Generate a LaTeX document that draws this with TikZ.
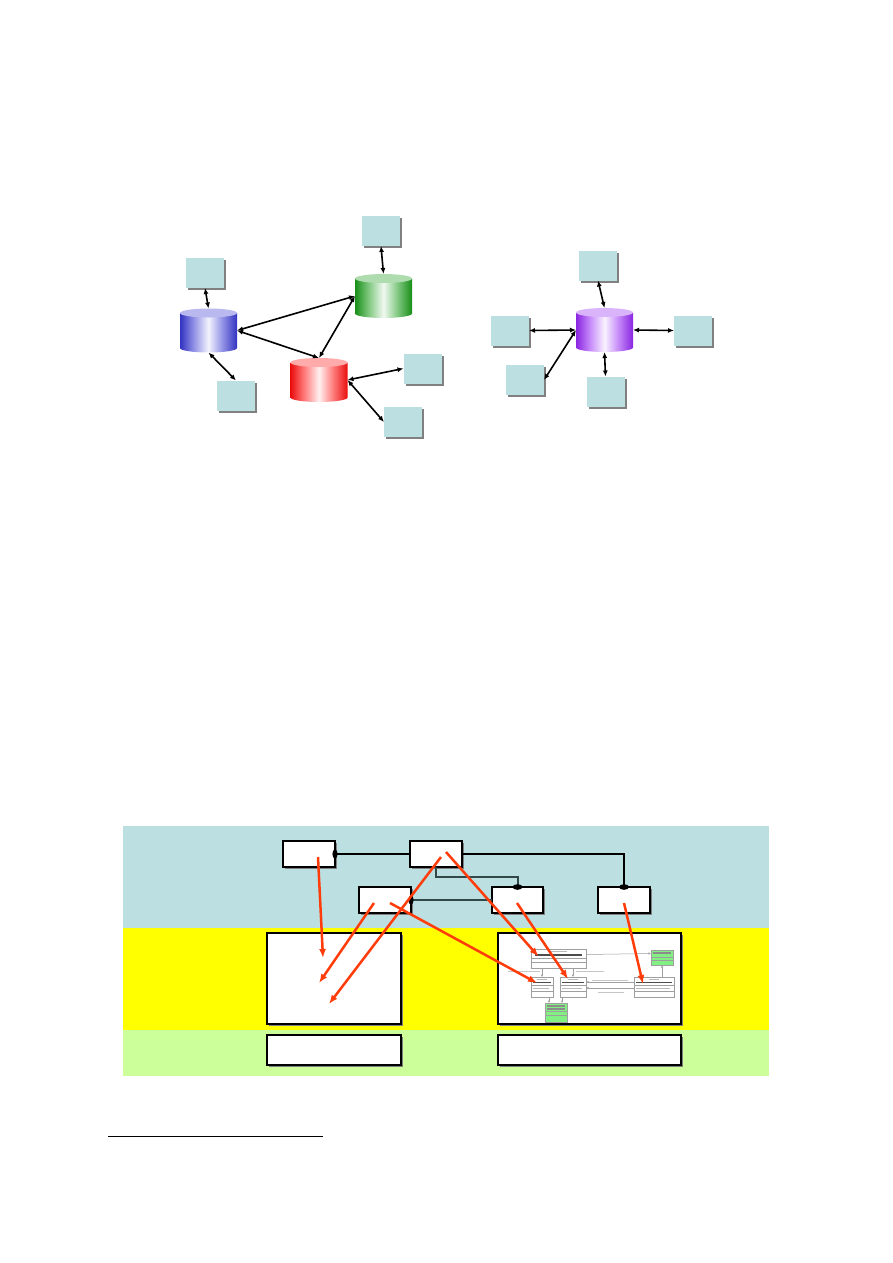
\documentclass[tikz,border=0pt]{standalone}
\usepackage{tikz}
\usetikzlibrary{calc,shadows,arrows.meta}

\definecolor{paneblue}{RGB}{188,224,225}
\definecolor{bandyellow}{RGB}{255,255,0}
\definecolor{bandgreen}{RGB}{204,255,153}
\definecolor{tracered}{RGB}{255,60,10}
\definecolor{wiregray}{RGB}{50,72,72}
\definecolor{umlgreen}{RGB}{130,240,130}
\definecolor{drumblue}{RGB}{55,55,210}
\definecolor{drumgreen}{RGB}{25,155,25}
\definecolor{drumred}{RGB}{255,15,15}
\definecolor{drumpurple}{RGB}{150,40,245}
\colorlet{drumc}{drumblue}

\pgfdeclarehorizontalshading[drumc]{drumbody}{100bp}{color(0bp)=(drumc!92!black); color(25bp)=(drumc!92!black); color(37bp)=(drumc!55!white); color(50bp)=(drumc!6!white); color(61bp)=(drumc!50!white); color(75bp)=(drumc!92!black); color(100bp)=(drumc!92!black)}

\def\drum#1#2{\colorlet{drumc}{#2}
	\shade[shading=drumbody] ($(#1.north west)+(0, 4.5)$) -- ($(#1.south west)+(0, -4.5)$) arc[start angle=180, end angle=360, x radius=28.5pt, y radius=4.5pt] -- ($(#1.north east)+(0, 4.5)$) -- cycle;
	\fill[#2!35!white] ($(#1.north)+(0, 4.5)$) ellipse[x radius=28.5pt, y radius=4.5pt];}

\tikzset{
	pane/.style={rectangle, fill=paneblue, inner sep=0, outer sep=0, minimum width=38pt, minimum height=30pt, general shadow={fill=gray, shadow xshift=2pt, shadow yshift=-2pt}},
	drum/.style={rectangle, inner sep=0, outer sep=0, minimum width=57pt, minimum height=44pt},
	link/.style={{Latex[length=6pt, width=5pt]}-{Latex[length=6pt, width=5pt]}, line width=1.6pt},
	card/.style={rectangle, draw, fill=white, line width=1.4pt, inner sep=0, outer sep=0, general shadow={fill=gray, shadow xshift=1.8pt, shadow yshift=-1.8pt}},
	wire/.style={line width=1.3pt},
	thickwire/.style={line width=2pt, color=wiregray},
	trace/.style={-{Latex[length=9pt, width=7pt]}, line width=2.5pt, color=tracered},
	umlbox/.style={rectangle, draw=gray!75, fill=white, line width=0.5pt, inner sep=0, outer sep=0},
	umlline/.style={gray!75, line width=0.5pt},
	scribble/.style={gray!55, line width=0.8pt},
	scribbold/.style={black!70, line width=1.1pt}
}

\begin{document}
\begin{tikzpicture}[x=1pt, y=-1pt]
			%%%%% START %%%%%
			\useasboundingbox (0, 0) rectangle (893, 1263);
			
			% first sketch: three linked stores
			\node[pane] (tg) at (381, 231) {};
			\node[pane] (tb) at (205, 273) {};
			\node[pane] (bb) at (236, 395.5) {};
			\node[pane] (rb1) at (422.5, 368.5) {};
			\node[pane] (rb2) at (403, 422) {};
			\node[drum] (bluedb) at (208.5, 330.5) {};
			\node[drum] (greendb) at (383.5, 296) {};
			\node[drum] (reddb) at (319, 380) {};
			\drum{bluedb}{drumblue}
			\drum{greendb}{drumgreen}
			\drum{reddb}{drumred}
			
			\draw[link] (tg.south) -- (greendb.north);
			\draw[link] (tb.south) -- (bluedb.north);
			\draw[link] (bluedb.south) -- (bb.north);
			\draw[link] (bluedb.east) -- (greendb.west);
			\draw[link] (bluedb.east) -- (reddb.north);
			\draw[link] (greendb.west) -- (reddb.north);
			\draw[link] (reddb.east) -- (rb1.west);
			\draw[link] (reddb.east) -- (rb2.west);
			
			% second sketch: one central store
			\node[pane] (pt) at (598, 265.5) {};
			\node[pane] (pl) at (510, 330.5) {};
			\node[pane] (pr) at (693, 330.5) {};
			\node[pane] (pbl) at (525, 380) {};
			\node[pane] (pb) at (605.5, 391.5) {};
			\node[drum] (purpledb) at (604.5, 330) {};
			\drum{purpledb}{drumpurple}
			
			\draw[link] (pt.south) -- (purpledb.north);
			\draw[link] (pl.east) -- (purpledb.west);
			\draw[link] (purpledb.west) -- (pbl.east);
			\draw[link] (purpledb.east) -- (pr.west);
			\draw[link] (purpledb.south) -- (pb.north);
			
			% layers
			\fill[paneblue] (123, 826) rectangle (769, 928);
			\fill[bandyellow] (123, 928) rectangle (769, 1030);
			\fill[bandgreen] (123, 1030) rectangle (769, 1076);
			
			\node[card, minimum width=52pt, minimum height=26pt] (A) at (309, 854) {};
			\node[card, minimum width=52pt, minimum height=26pt] (B) at (436, 854) {};
			\node[card, minimum width=52pt, minimum height=26pt] (C) at (385, 900) {};
			\node[card, minimum width=51pt, minimum height=26pt] (D) at (517.5, 900) {};
			\node[card, minimum width=52pt, minimum height=26pt] (E) at (624, 900) {};
			
			\node[card, minimum width=134pt, minimum height=91pt] (L1) at (334, 978.5) {};
			\node[card, minimum width=183pt, minimum height=91pt] (R1) at (589.5, 978.5) {};
			\node[card, minimum width=134pt, minimum height=30pt] (L2) at (334, 1050) {};
			\node[card, minimum width=183pt, minimum height=30pt] (R2) at (589.5, 1050) {};
			
			\draw[wire] (A.east) -- (B.west);
			\draw[wire] (B.east) -| (E.north);
			\draw[thickwire] (B.south) -- ++(0, 10) -| (D.north);
			\draw[thickwire] (D.west) -- (C.east);
			\fill (A.east) ellipse[x radius=2.6pt, y radius=4.6pt];
			\fill (E.north) ellipse[x radius=5pt, y radius=2.8pt];
			\fill (D.north) ellipse[x radius=5pt, y radius=2.8pt];
			\fill (C.east) ellipse[x radius=2.6pt, y radius=4.6pt];
			
			% small class sketch in R1
			\node[umlbox, minimum width=55pt, minimum height=19pt] (U1) at (558.5, 958.5) {};
			\node[umlbox, fill=umlgreen, minimum width=22pt, minimum height=15pt] (G1) at (662, 957.5) {};
			\node[umlbox, minimum width=22pt, minimum height=20pt] (U2) at (542, 987) {};
			\node[umlbox, minimum width=26pt, minimum height=20pt] (U3) at (573, 987) {};
			\node[umlbox, minimum width=40pt, minimum height=20pt] (U4) at (654, 987) {};
			\node[umlbox, fill=umlgreen, minimum width=22pt, minimum height=19pt] (G2) at (556, 1012.5) {};
			
			\draw[umlline] ($(U1.west)+(0, 0)$) -- ($(U1.east)+(0, 0)$);
			\draw[umlline] ($(U1.west)+(0, 4)$) -- ($(U1.east)+(0, 4)$);
			\draw[umlline] ($(G1.west)+(0, 0)$) -- ($(G1.east)+(0, 0)$);
			\draw[umlline] ($(G1.west)+(0, 3)$) -- ($(G1.east)+(0, 3)$);
			\draw[umlline] ($(G2.west)+(0, -1)$) -- ($(G2.east)+(0, -1)$);
			\draw[umlline] ($(G2.west)+(0, 3)$) -- ($(G2.east)+(0, 3)$);
			\foreach \cls in {U2, U3, U4} {
				\draw[umlline] ($(\cls.west)+(0, -2)$) -- ($(\cls.east)+(0, -2)$);
				\draw[umlline] ($(\cls.west)+(0, 4)$) -- ($(\cls.east)+(0, 4)$);
				\draw[scribble] ($(\cls.north)+(-5, 2.5)$) -- ($(\cls.north)+(5, 2.5)$);
				\draw[scribbold] ($(\cls.north west)+(2, 5.5)$) -- ($(\cls.north east)+(-2, 5.5)$);
				\draw[scribble] ($(\cls.west)+(2, 1)$) -- ($(\cls.east)+(-4, 1)$);
			}
			\draw[scribble] ($(U1.north)+(-8, 2.5)$) -- ($(U1.north)+(8, 2.5)$);
			\draw[scribbold] ($(U1.north west)+(4, 6)$) -- ($(U1.north east)+(-4, 6)$);
			\draw[scribbold, black!45] ($(G1.north west)+(2, 3)$) -- ($(G1.north east)+(-2, 3)$);
			\draw[scribbold, black!45] ($(G2.north west)+(2, 3)$) -- ($(G2.north east)+(-2, 3)$);
			\draw[scribbold, black!45] ($(G2.north west)+(2, 6)$) -- ($(G2.north east)+(-2, 6)$);
			
			\draw[umlline, -{Latex[length=2.5pt, width=2.5pt]}] ($(U1.east)+(0, -4)$) -- ($(G1.west)+(0, -4)$);
			\draw[umlline, -{Latex[open, length=2.5pt, width=2.5pt]}] (U4.north -| G1.south) -- (G1.south);
			\draw[umlline, -{Latex[length=2.5pt, width=2.5pt]}] (U1.south -| U2.north) -- (U2.north);
			\draw[umlline, -{Latex[length=2.5pt, width=2.5pt]}] (U1.south -| U3.north) -- (U3.north);
			\draw[umlline, {Latex[length=2.5pt, width=2.5pt]}-] ($(U3.east)+(0, -5)$) -- ($(U4.west)+(0, -5)$);
			\draw[umlline, {Latex[length=2.5pt, width=2.5pt]}-] ($(U3.east)+(0, 1)$) -- ($(U4.west)+(0, 1)$);
			\draw[umlline, -{Latex[open, length=2.5pt, width=2.5pt]}] ($(U2.south)+(7, 0)$) -- ($(G2.north)+(-7, 0)$);
			\draw[umlline, -{Latex[open, length=2.5pt, width=2.5pt]}] ($(U3.south)+(-11, 0)$) -- ($(G2.north)+(6, 0)$);
			\draw[scribble, gray!45] (508, 971.5) -- (540, 971.5);
			\draw[scribble, gray!45] (576, 971.5) -- (604, 971.5);
			\draw[scribble, gray!45] (592, 980) -- (628, 980);
			\draw[scribble, gray!45] (598, 992.5) -- (624, 992.5);
			
			% traces between layers
			\coordinate (fromA) at (318, 857);
			\coordinate (fromC1) at (374, 903);
			\coordinate (fromC2) at (390, 903);
			\coordinate (fromB1) at (441, 857);
			\coordinate (fromB2) at (446, 852);
			\coordinate (fromD) at (517, 903);
			\coordinate (fromE) at (624, 903);
			\coordinate (inL1a) at (323, 958);
			\coordinate (inL1b) at (319, 983);
			\coordinate (inL1c) at (329, 1004);
			
			\draw[trace] (fromA) -- (inL1a);
			\draw[trace] (fromC1) -- (inL1b);
			\draw[trace] (fromB1) -- (inL1c);
			\draw[trace] (fromC2) -- ($(U2.center)+(-5, -4)$);
			\draw[trace] (fromB2) -- ($(U1.center)+(-20, -2)$);
			\draw[trace] (fromD) -- ($(U3.center)+(-5, -8)$);
			\draw[trace] (fromE) -- ($(U4.center)+(-11, -3)$);
			
			% footnote rule
			\draw[line width=1pt] (108, 1136) -- (323, 1136);
			
			%%%%% END %%%%%
		\end{tikzpicture}
\end{document}
